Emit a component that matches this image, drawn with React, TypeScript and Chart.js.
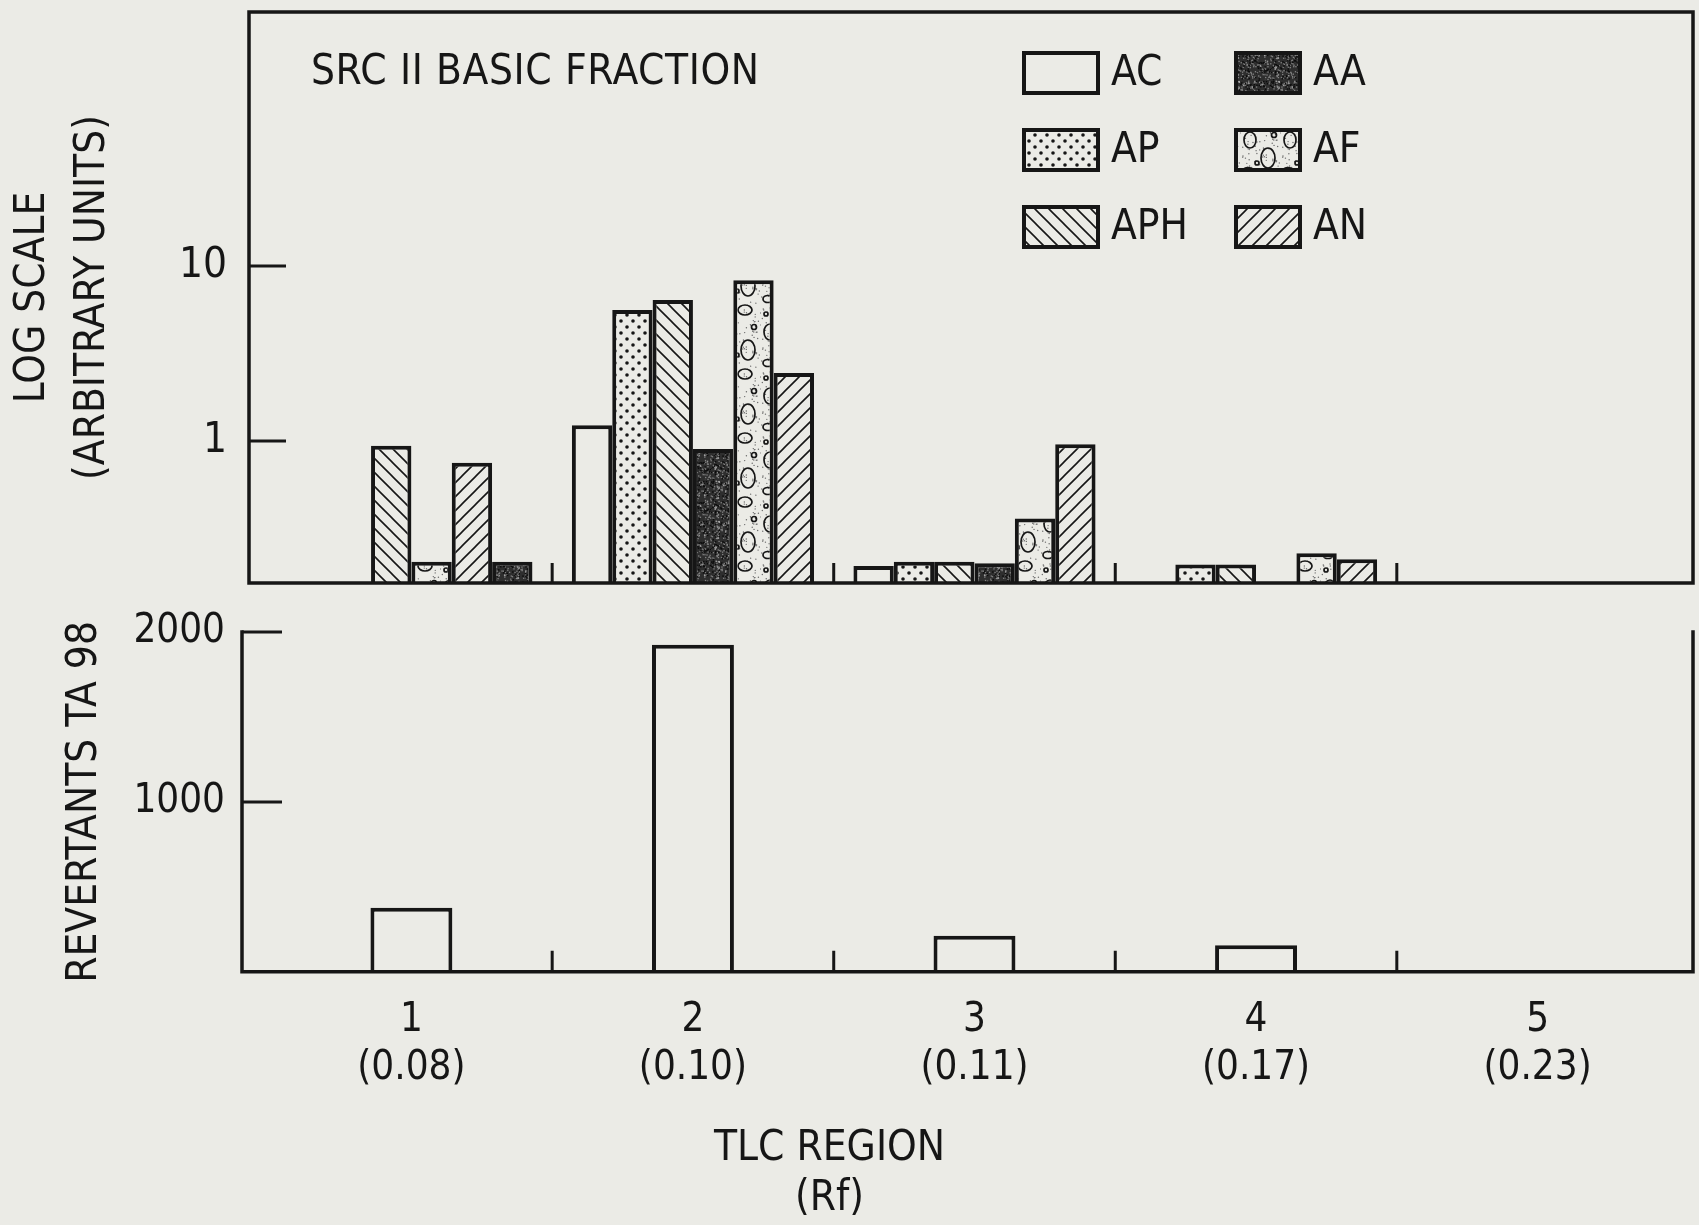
import React, { useEffect, useRef } from 'react';
import { Chart, registerables } from 'chart.js';

Chart.register(...registerables);

// ---------------- data ----------------
const regionNumbers = [1, 2, 3, 4, 5];
const rfValues = ['(0.08)', '(0.10)', '(0.11)', '(0.17)', '(0.23)'];
const seriesNames = ['AC', 'AP', 'APH', 'AA', 'AF', 'AN'];
const acValues = [null, 1.23, 0.193, null, null];
const apValues = [null, 5.6, 0.204, 0.197, null];
const aphValues = [0.94, 6.4, 0.204, 0.197, null];
const aaValues = [0.204, 0.9, 0.2, null, null];
const afValues = [0.204, 8.3, 0.361, 0.228, null];
const anValues = [0.75, 2.45, 0.957, 0.211, null];
// left-to-right order in which the bars of each region are drawn in the figure
const regionBarOrder = [
  ['AC', 'AP', 'APH', 'AF', 'AN', 'AA'],
  ['AC', 'AP', 'APH', 'AA', 'AF', 'AN'],
  ['AC', 'AP', 'APH', 'AA', 'AF', 'AN'],
  ['AC', 'AP', 'APH', 'AA', 'AF', 'AN'],
  ['AC', 'AP', 'APH', 'AA', 'AF', 'AN'],
];
const revertants = [378, 1925, 213, 157, null];
const logTicks = [1, 10];
const revertantTicks = [1000, 2000];
const topTitle = 'SRC II BASIC FRACTION';
const logAxisTitle = ['LOG SCALE', '(ARBITRARY UNITS)'];
const revertantAxisTitle = 'REVERTANTS TA 98';
const xAxisTitle = ['TLC REGION', '(Rf)'];

// ---------------- styles ----------------
const PAPER = '#ebebe6';
const INK = '#161616';
const FONT = "'Liberation Sans Narrow', 'DejaVu Sans Condensed', 'Roboto Condensed', 'Liberation Sans', sans-serif";

function rng(seed: number) {
  let s = seed;
  return () => {
    s = (s * 16807) % 2147483647;
    return s / 2147483647;
  };
}

function tile(w: number, h: number, draw: (g: CanvasRenderingContext2D) => void) {
  const c = document.createElement('canvas');
  c.width = w;
  c.height = h;
  const g = c.getContext('2d') as CanvasRenderingContext2D;
  g.fillStyle = PAPER;
  g.fillRect(0, 0, w, h);
  draw(g);
  return g.createPattern(c, 'repeat') as CanvasPattern;
}

function buildFills(): Record<string, any> {
  const dots = tile(12, 12, (g) => {
    g.fillStyle = INK;
    [[3, 3], [9, 9]].forEach(([x, y]) => {
      g.beginPath();
      g.arc(x, y, 1.8, 0, Math.PI * 2);
      g.fill();
    });
  });
  const back = tile(14, 14, (g) => {
    g.strokeStyle = INK;
    g.lineWidth = 1.6;
    g.beginPath();
    g.moveTo(-2, -2); g.lineTo(16, 16);
    g.moveTo(-2, 12); g.lineTo(2, 16);
    g.moveTo(12, -2); g.lineTo(16, 2);
    g.stroke();
  });
  const forward = tile(14, 14, (g) => {
    g.strokeStyle = INK;
    g.lineWidth = 1.6;
    g.beginPath();
    g.moveTo(-2, 16); g.lineTo(16, -2);
    g.moveTo(-2, 2); g.lineTo(2, -2);
    g.moveTo(12, 16); g.lineTo(16, 12);
    g.stroke();
  });
  const dark = tile(40, 40, (g) => {
    g.fillStyle = '#2e2e2e';
    g.fillRect(0, 0, 40, 40);
    const r = rng(97);
    g.fillStyle = 'rgba(190,190,190,0.6)';
    for (let i = 0; i < 230; i++) g.fillRect(r() * 40, r() * 40, 1.3, 1.3);
    g.fillStyle = '#0c0c0c';
    for (let i = 0; i < 120; i++) g.fillRect(r() * 40, r() * 40, 1.5, 1.5);
  });
  const bubbles = tile(40, 64, (g) => {
    const r = rng(31);
    g.fillStyle = '#6a6a6a';
    for (let i = 0; i < 90; i++) {
      g.beginPath();
      g.arc(r() * 40, r() * 64, 0.7, 0, Math.PI * 2);
      g.fill();
    }
    g.strokeStyle = INK;
    g.lineWidth = 1.7;
    [[10, 12, 6, 8], [28, 30, 7, 10], [8, 43, 5, 3.5], [25, 54, 7, 5], [34, 7, 2.5, 2.5], [6, 58, 2, 2], [17, 35, 2, 2]].forEach(([x, y, a, b]) => {
      g.beginPath();
      g.ellipse(x, y, a, b, 0, 0, Math.PI * 2);
      g.stroke();
    });
  });
  return { AC: PAPER, AP: dots, APH: back, AA: dark, AF: bubbles, AN: forward };
}

const framePlugin = {
  id: 'frame',
  afterDatasetsDraw(chart: any, _args: any, opts: any) {
    const { ctx, chartArea } = chart;
    const { left, right, top, bottom } = chartArea;
    ctx.save();
    ctx.strokeStyle = INK;
    ctx.lineCap = 'square';
    ctx.lineWidth = opts.lineWidth;
    ctx.beginPath();
    if (opts.sides.includes('left')) { ctx.moveTo(left, top); ctx.lineTo(left, bottom); }
    if (opts.sides.includes('bottom')) { ctx.moveTo(left, bottom); ctx.lineTo(right, bottom); }
    if (opts.sides.includes('right')) { ctx.moveTo(right, top); ctx.lineTo(right, bottom); }
    if (opts.sides.includes('top')) { ctx.moveTo(left, top); ctx.lineTo(right, top); }
    ctx.stroke();
    ctx.lineCap = 'butt';
    ctx.lineWidth = opts.tickWidth;
    ctx.beginPath();
    const ys = chart.scales.y;
    ys.ticks.forEach((t: any) => {
      const py = ys.getPixelForValue(t.value);
      ctx.moveTo(left, py);
      ctx.lineTo(left + opts.yTickLength, py);
    });
    const xs = chart.scales.x;
    for (let i = 0; i < regionNumbers.length - 1; i++) {
      const px = xs.getPixelForValue((regionNumbers[i] + regionNumbers[i + 1]) / 2);
      ctx.moveTo(px, bottom);
      ctx.lineTo(px, bottom - opts.xTickLength);
    }
    ctx.stroke();
    ctx.restore();
  },
};

const keyPlugin = {
  id: 'key',
  afterDraw(chart: any, _args: any, opts: any) {
    const { ctx } = chart;
    ctx.save();
    ctx.fillStyle = INK;
    ctx.textBaseline = 'middle';
    ctx.textAlign = 'left';
    ctx.font = `${opts.titleSize}px ${FONT}`;
    try { (ctx as any).letterSpacing = opts.titleSpacing; } catch (e) {}
    ctx.fillText(opts.title, opts.titleX, opts.titleY);
    try { (ctx as any).letterSpacing = '0px'; } catch (e) {}
    ctx.font = `${opts.labelSize}px ${FONT}`;
    opts.names.forEach((name: string, i: number) => {
      const col = Math.floor(i / 3);
      const row = i % 3;
      const bw = opts.boxW[col];
      const bx = opts.colX[col];
      const cy = opts.rowY[row];
      const by = cy - opts.boxH / 2;
      ctx.fillStyle = opts.fills[name];
      ctx.fillRect(bx, by, bw, opts.boxH);
      ctx.lineWidth = 4;
      ctx.strokeStyle = INK;
      ctx.strokeRect(bx, by, bw, opts.boxH);
      ctx.fillStyle = INK;
      ctx.fillText(name, bx + bw + opts.gap, cy + 1);
    });
    ctx.restore();
  },
};

export default function App() {
  const topRef = useRef<HTMLCanvasElement>(null);
  const botRef = useRef<HTMLCanvasElement>(null);

  useEffect(() => {
    document.body.style.margin = '0';
    document.body.style.background = PAPER;
    const fills = buildFills();
    const valuesByName: Record<string, (number | null)[]> = {
      AC: acValues, AP: apValues, APH: aphValues, AA: aaValues, AF: afValues, AN: anValues,
    };
    const slotCount = seriesNames.length;
    const slots = Array.from({ length: slotCount }, (_, k) => k);

    const top = new Chart(topRef.current as HTMLCanvasElement, {
      type: 'bar',
      data: {
        datasets: slots.map((k) => ({
          label: seriesNames[k],
          data: regionNumbers.map((r, i) => ({ x: r, y: valuesByName[regionBarOrder[i][k]][i] })),
          backgroundColor: (c: any) => fills[regionBarOrder[c.dataIndex][k]],
          borderColor: INK,
          borderWidth: 4,
          borderSkipped: 'start',
          categoryPercentage: 0.86,
          barPercentage: 1,
        })),
      },
      options: {
        animation: false,
        responsive: false,
        devicePixelRatio: 1,
        events: [],
        layout: { padding: { top: 12, right: 6, bottom: 17, left: 0 } },
        plugins: {
          legend: { display: false },
          tooltip: { enabled: false },
          title: { display: false },
          frame: { sides: ['left', 'bottom', 'right', 'top'], lineWidth: 3.5, tickWidth: 3, yTickLength: 37, xTickLength: 20 },
          key: {
            title: topTitle, titleX: 311, titleY: 73, titleSize: 42, titleSpacing: '0.6px',
            names: seriesNames, fills,
            labelSize: 42, colX: [1024, 1236], boxW: [74, 64], boxH: 40, rowY: [73, 150, 227], gap: 13,
          },
        } as any,
        scales: {
          x: {
            type: 'linear', min: 0.4232, max: 5.552, offset: false, display: false,
            afterBuildTicks: (s: any) => { s.ticks = regionNumbers.map((v) => ({ value: v })); },
          },
          y: {
            type: 'logarithmic', min: Math.pow(10, -0.8114), max: Math.pow(10, 2.4514),
            afterBuildTicks: (s: any) => { s.ticks = logTicks.map((v) => ({ value: v })); },
            afterFit: (s: any) => { s.width = 249; s.paddingTop = 0; s.paddingBottom = 0; },
            grid: { display: false, drawTicks: false },
            border: { display: false },
            ticks: { callback: (v: any) => String(v), font: { family: FONT, size: 42 }, color: INK, padding: 22, autoSkip: false },
            title: { display: true, text: logAxisTitle, font: { family: FONT, size: 42, lineHeight: 1.43 }, color: INK, padding: { top: 3, bottom: 0 } },
          },
        } as any,
      },
      plugins: [framePlugin, keyPlugin],
    } as any);

    const bottom = new Chart(botRef.current as HTMLCanvasElement, {
      type: 'bar',
      data: {
        datasets: [{
          label: revertantAxisTitle,
          data: regionNumbers.map((r, i) => ({ x: r, y: revertants[i] })),
          backgroundColor: PAPER,
          borderColor: INK,
          borderWidth: 4,
          borderSkipped: 'start',
          categoryPercentage: 0.291,
          barPercentage: 1,
        }],
      },
      options: {
        animation: false,
        responsive: false,
        devicePixelRatio: 1,
        events: [],
        layout: { padding: { top: 32, right: 6, bottom: 0, left: 0 } },
        plugins: {
          legend: { display: false },
          tooltip: { enabled: false },
          title: {
            display: true, text: xAxisTitle, position: 'bottom', color: INK,
            font: { family: FONT, size: 42, weight: 'normal', lineHeight: 1.21 },
            padding: { top: 20, bottom: 0 },
          },
          frame: { sides: ['left', 'bottom', 'right'], lineWidth: 3.5, tickWidth: 3, yTickLength: 40, xTickLength: 21 },
        } as any,
        scales: {
          x: {
            type: 'linear', min: 0.3983, max: 5.552, offset: false,
            afterBuildTicks: (s: any) => { s.ticks = regionNumbers.map((v) => ({ value: v })); },
            afterFit: (s: any) => { s.height = 131.5; s.paddingLeft = 0; s.paddingRight = 0; },
            grid: { display: false, drawTicks: false },
            border: { display: false },
            ticks: {
              autoSkip: false, maxRotation: 0, padding: 25, color: INK,
              font: { family: FONT, size: 40, lineHeight: 1.2 },
              callback: (v: any) => {
                const i = regionNumbers.indexOf(Number(v));
                return i < 0 ? '' : [String(regionNumbers[i]), rfValues[i]];
              },
            },
          },
          y: {
            type: 'linear', min: 0, max: 2000,
            afterBuildTicks: (s: any) => { s.ticks = revertantTicks.map((v) => ({ value: v })); },
            afterFit: (s: any) => { s.width = 276; s.paddingTop = 0; s.paddingBottom = 0; },
            grid: { display: false, drawTicks: false },
            border: { display: false },
            ticks: { callback: (v: any) => String(v), font: { family: FONT, size: 40 }, color: INK, padding: 17, autoSkip: false },
            title: { display: true, text: revertantAxisTitle, font: { family: FONT, size: 42, lineHeight: 1.43 }, color: INK, padding: { top: 89, bottom: 0 } },
          },
        } as any,
      },
      plugins: [framePlugin],
    } as any);

    return () => {
      top.destroy();
      bottom.destroy();
    };
  }, []);

  return (
    <div style={{ position: 'relative', width: 1699, height: 1225, overflow: 'hidden', background: PAPER }}>
      <canvas ref={topRef} width={1699} height={600} style={{ position: 'absolute', left: 0, top: 0, width: 1699, height: 600 }} />
      <canvas ref={botRef} width={1733} height={625} style={{ position: 'absolute', left: -34, top: 600, width: 1733, height: 625 }} />
    </div>
  );
}
